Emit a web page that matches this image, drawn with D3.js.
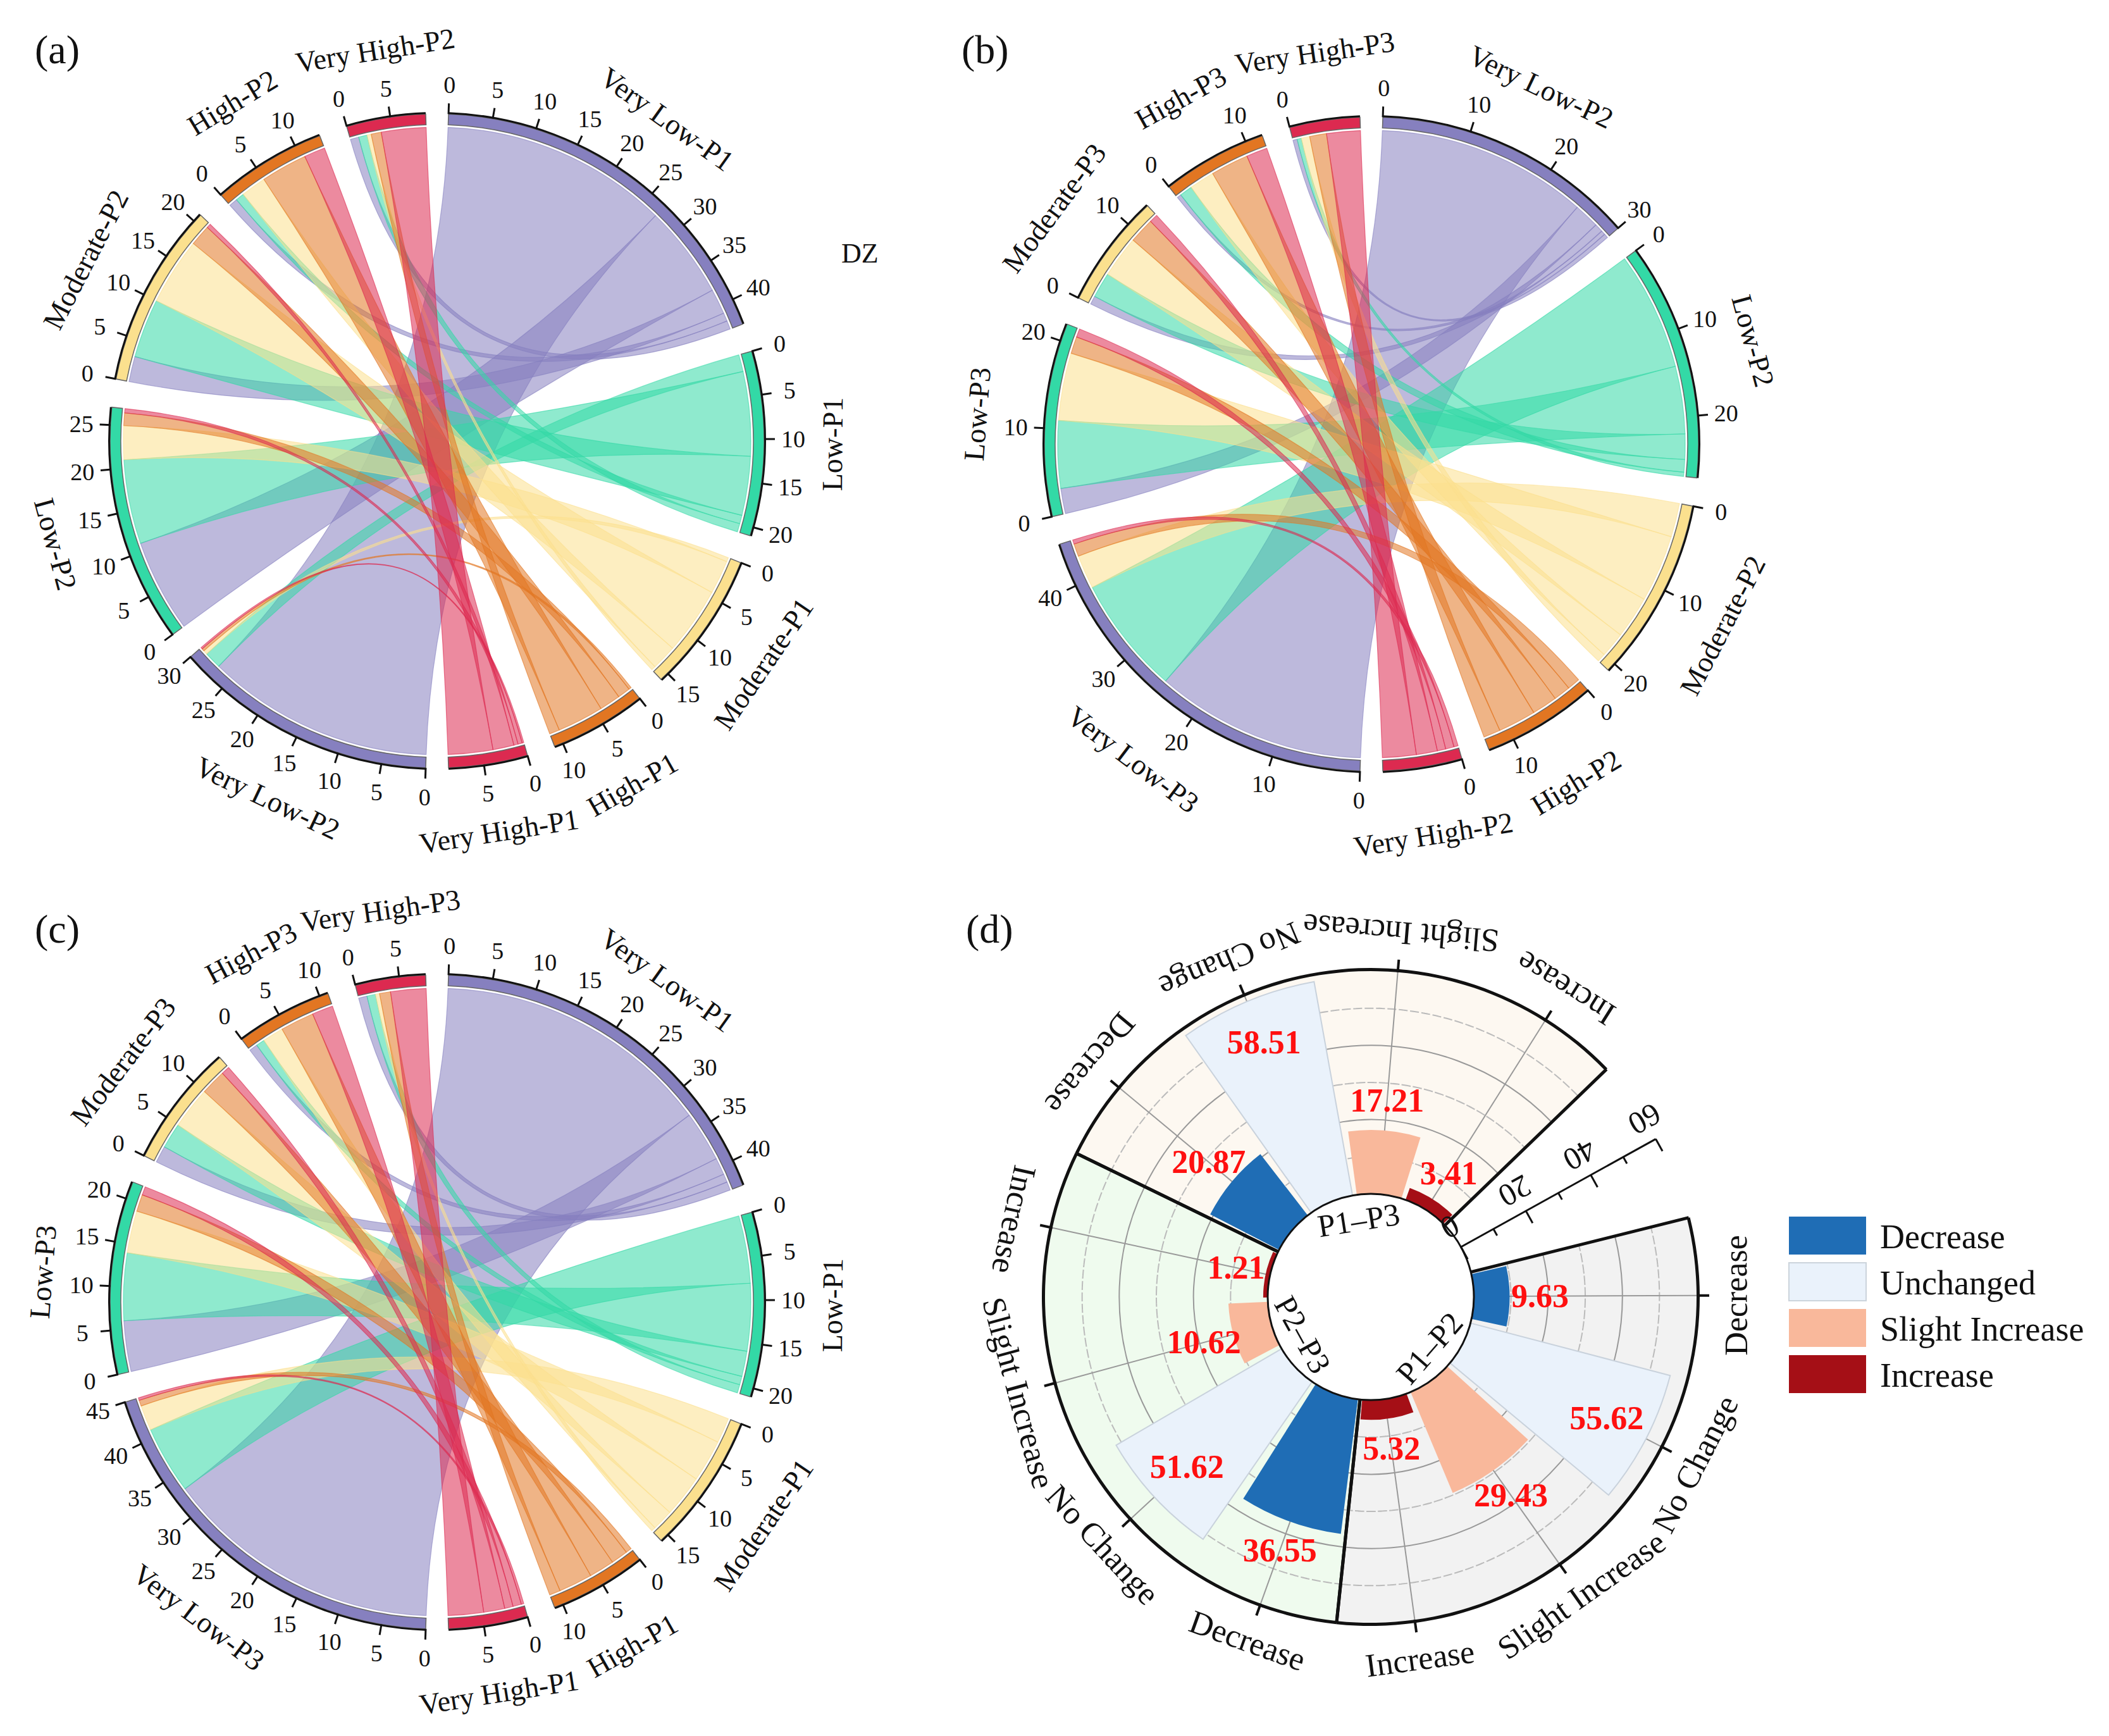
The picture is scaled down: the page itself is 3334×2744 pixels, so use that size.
<!DOCTYPE html>
<html>
<head>
<meta charset="utf-8">
<script src="https://cdn.jsdelivr.net/npm/d3@7"></script>
<style>
  body { margin: 0; background: #fff; }
  text { font-family: "Liberation Serif", "DejaVu Serif", serif; fill: #111; }
</style>
</head>
<body>
<script>
// ---- data ----
var levels = ["Very Low", "Low", "Moderate", "High", "Very High"];
var levelColors = ["#8680bf", "#33d9a6", "#fbe08e", "#e27622", "#dc2a50"];

// rows = right-hand period, cols = left-hand period
var flowsA = [ // P1 -> P2
  [27, 11, 3, 1, 1],
  [2, 10, 7, 1, 1],
  [0.5, 4, 8, 3, 0.5],
  [0.3, 1.5, 2.5, 5.5, 1.2],
  [0.2, 0.5, 0.5, 2.5, 5.3]
];
var flowsB = [ // P2 -> P3
  [25, 3, 1, 0.5, 0.5],
  [14, 8, 3, 1.5, 0.5],
  [4, 8, 5, 3, 1],
  [1.5, 2, 3, 4.5, 2],
  [0.5, 1, 1, 2.5, 4]
];
var flowsC = [ // P1 -> P3
  [33, 6, 2, 1, 1],
  [8, 8, 3, 1, 1],
  [3, 5, 5, 2.5, 0.5],
  [0.7, 2, 3, 4, 1.3],
  [0.3, 1, 1, 2.5, 4.2]
];

var pairNames = ["P1–P2", "P2–P3", "P1–P3"];
var catNames = ["Decrease", "No Change", "Slight Increase", "Increase"];
var decreaseVals = [9.63, 36.55, 20.87];
var unchangedVals = [55.62, 51.62, 58.51];
var slightVals = [29.43, 10.62, 17.21];
var increaseVals = [5.32, 1.21, 3.41];
var legendNames = ["Decrease", "Unchanged", "Slight Increase", "Increase"];
var barColors = ["#1f6db5", "#eaf2fb", "#f9b89b", "#a50f16"];
var radialTicks = [0, 20, 40, 60];

var W = 3334, H = 2744;
var svg = d3.select("body").append("svg").attr("width", W).attr("height", H);
svg.append("rect").attr("width", W).attr("height", H).attr("fill", "#fff");

var deg = Math.PI / 180;
function px(r, a) { return r * Math.sin(a); }
function py(r, a) { return -r * Math.cos(a); }
// text rotation so labels stay readable
function rot(a) {
  var d = a / deg;
  d = ((d % 360) + 360) % 360;
  return (d >= 90 && d < 270) ? d - 180 : d;
}

function drawChord(cx, cy, flows, rightP, leftP, step) {
  var g = svg.append("g").attr("transform", "translate(" + cx + "," + cy + ")");
  var R = 517, band = 17, ribR = R - band - 4;
  var halfGap = 2 * deg, pad = 5 * deg;

  var rightSizes = flows.map(function(r) { return d3.sum(r); });
  var leftSizes = levels.map(function(l, j) { return d3.sum(flows, function(r) { return r[j]; }); });

  function makeScales(sizes, base) {
    var k = (Math.PI - 2 * halfGap - 4 * pad) / d3.sum(sizes);
    var pos = base + halfGap;
    return sizes.map(function(s) {
      var sc = d3.scaleLinear().domain([0, s]).range([pos, pos + s * k]);
      pos += s * k + pad;
      return sc;
    });
  }
  var rs = makeScales(rightSizes, 0);
  var ls = makeScales(leftSizes, Math.PI);

  var ribbon = d3.ribbon().radius(ribR);
  var offR = [0, 0, 0, 0, 0], offL = [0, 0, 0, 0, 0];
  var chords = [];
  flows.forEach(function(row, i) {
    row.forEach(function(f, j) {
      chords.push({
        color: levelColors[i],
        source: { startAngle: rs[i](offR[i]), endAngle: rs[i](offR[i] + f) },
        target: { startAngle: ls[j](leftSizes[j] - offL[j] - f), endAngle: ls[j](leftSizes[j] - offL[j]) }
      });
      offR[i] += f;
      offL[j] += 0; // placeholder
    });
  });
  // left-side ordering: ascending source index clockwise
  offL = [0, 0, 0, 0, 0];
  var k = 0;
  flows.forEach(function(row, i) {
    row.forEach(function(f, j) {
      chords[k].target = { startAngle: ls[j](offL[j]), endAngle: ls[j](offL[j] + f) };
      offL[j] += f;
      k++;
    });
  });

  g.selectAll("path.ribbon").data(chords).enter().append("path")
    .attr("class", "ribbon")
    .attr("d", ribbon)
    .attr("fill", function(d) { return d.color; })
    .attr("fill-opacity", 0.55)
    .attr("stroke", function(d) { return d.color; })
    .attr("stroke-opacity", 0.6)
    .attr("stroke-width", 1.2);

  var groups = [];
  levels.forEach(function(l, i) { groups.push({ name: l + "-" + rightP, sc: rs[i], size: rightSizes[i], color: levelColors[i] }); });
  levels.forEach(function(l, j) { groups.push({ name: l + "-" + leftP, sc: ls[j], size: leftSizes[j], color: levelColors[j] }); });

  var bandArc = d3.arc().innerRadius(R - band).outerRadius(R);
  var lineArc = d3.arc().innerRadius(R).outerRadius(R + 3);
  groups.forEach(function(gr) {
    var a0 = gr.sc(0), a1 = gr.sc(gr.size);
    g.append("path").attr("d", bandArc({ startAngle: a0, endAngle: a1 }))
      .attr("fill", gr.color).attr("stroke", "#666").attr("stroke-width", 1.5);
    g.append("path").attr("d", lineArc({ startAngle: a0, endAngle: a1 })).attr("fill", "#111");

    d3.range(0, gr.size + 0.001, step).forEach(function(v) {
      var a = gr.sc(v);
      g.append("line")
        .attr("x1", px(R, a)).attr("y1", py(R, a))
        .attr("x2", px(R + 17, a)).attr("y2", py(R + 17, a))
        .attr("stroke", "#111").attr("stroke-width", 3);
      g.append("text")
        .attr("x", px(R + 46, a)).attr("y", py(R + 46, a))
        .attr("text-anchor", "middle").attr("dominant-baseline", "central")
        .attr("font-size", 38).text(v);
    });

    var am = (a0 + a1) / 2, lr = R + 108;
    g.append("text")
      .attr("transform", "translate(" + px(lr, am) + "," + py(lr, am) + ") rotate(" + rot(am) + ")")
      .attr("text-anchor", "middle").attr("dominant-baseline", "central")
      .attr("font-size", 46).text(gr.name);
  });
}

drawChord(691, 697, flowsA, "P1", "P2", 5);
drawChord(2168, 702, flowsB, "P2", "P3", 10);
drawChord(691, 2058, flowsC, "P1", "P3", 5);

// panel letters
[["(a)", 55, 100], ["(b)", 1520, 100], ["(c)", 55, 1490], ["(d)", 1527, 1490]].forEach(function(p) {
  svg.append("text").attr("x", p[1]).attr("y", p[2]).attr("font-size", 64).text(p[0]);
});
svg.append("text").attr("x", 1330).attr("y", 415).attr("font-size", 44).text("DZ");

// ---- polar bar chart (d) ----
(function() {
  var cx = 2167, cy = 2050, r0 = 163, R = 515;
  var g = svg.append("g").attr("transform", "translate(" + cx + "," + cy + ")");
  var r = d3.scaleLinear().domain([0, 60]).range([r0, R]);
  var sectorSpan = 110, sectorStart = 76, catSpan = sectorSpan / 4;
  var bgColors = ["#f2f2f2", "#effbee", "#fdf8f1"];
  var series = [decreaseVals, unchangedVals, slightVals, increaseVals];
  var arc = d3.arc();

  pairNames.forEach(function(p, s) {
    var a0 = (sectorStart + s * sectorSpan) * deg, a1 = a0 + sectorSpan * deg;
    g.append("path").attr("d", arc({ innerRadius: r0, outerRadius: R, startAngle: a0, endAngle: a1 }))
      .attr("fill", bgColors[s]);
    // grid circles
    [10, 20, 30, 40, 50].forEach(function(v) {
      g.append("path").attr("d", arc({ innerRadius: r(v), outerRadius: r(v), startAngle: a0, endAngle: a1 }))
        .attr("fill", "none").attr("stroke", v % 20 === 0 ? "#999" : "#bbb")
        .attr("stroke-width", 2).attr("stroke-dasharray", v % 20 === 0 ? null : "10,8");
    });
    catNames.forEach(function(c, ci) {
      var am = a0 + (ci + 0.5) * catSpan * deg;
      g.append("line").attr("x1", px(r0, am)).attr("y1", py(r0, am))
        .attr("x2", px(R, am)).attr("y2", py(R, am)).attr("stroke", "#999").attr("stroke-width", 2);
      g.append("line").attr("x1", px(R, am)).attr("y1", py(R, am))
        .attr("x2", px(R + 20, am)).attr("y2", py(R + 20, am)).attr("stroke", "#111").attr("stroke-width", 4);
      var lr = R + 62;
      g.append("text")
        .attr("transform", "translate(" + px(lr, am) + "," + py(lr, am) + ") rotate(" + (am / deg + 180) + ")")
        .attr("text-anchor", "middle").attr("dominant-baseline", "central")
        .attr("font-size", 52).text(c);
    });
  });

  // bars
  pairNames.forEach(function(p, s) {
    var a0 = (sectorStart + s * sectorSpan) * deg;
    series.forEach(function(vals, ci) {
      var b0 = a0 + (ci * catSpan + 1.2) * deg, b1 = a0 + ((ci + 1) * catSpan - 1.2) * deg;
      g.append("path").attr("d", arc({ innerRadius: r0, outerRadius: r(vals[s]), startAngle: b0, endAngle: b1 }))
        .attr("fill", barColors[ci])
        .attr("stroke", ci === 1 ? "#c9d2dc" : "none").attr("stroke-width", 2);
    });
  });

  // sector outlines
  pairNames.forEach(function(p, s) {
    var a0 = (sectorStart + s * sectorSpan) * deg, a1 = a0 + sectorSpan * deg;
    g.append("path").attr("d", arc({ innerRadius: R, outerRadius: R + 5, startAngle: a0, endAngle: a1 }))
      .attr("fill", "#111");
    [a0, a1].forEach(function(a) {
      g.append("line").attr("x1", px(r0, a)).attr("y1", py(r0, a))
        .attr("x2", px(R + 3, a)).attr("y2", py(R + 3, a)).attr("stroke", "#111").attr("stroke-width", 5);
    });
  });

  g.append("circle").attr("r", r0).attr("fill", "#fff").attr("stroke", "#111").attr("stroke-width", 3);

  // value labels
  pairNames.forEach(function(p, s) {
    var a0 = (sectorStart + s * sectorSpan) * deg;
    series.forEach(function(vals, ci) {
      var v = vals[s], am = a0 + (ci + 0.5) * catSpan * deg;
      var lr = v > 45 ? r(v) - 70 : r(v) + 48;
      g.append("text").attr("x", px(lr, am)).attr("y", py(lr, am))
        .attr("text-anchor", "middle").attr("dominant-baseline", "central")
        .attr("font-size", 52).attr("font-weight", "bold").style("fill", "#ff1010")
        .text(v.toFixed(2));
    });
    var amid = a0 + sectorSpan / 2 * deg, pr = r0 - 40;
    g.append("text")
      .attr("transform", "translate(" + px(pr, amid) + "," + py(pr, amid) + ") rotate(" + rot(amid) + ")")
      .attr("text-anchor", "middle").attr("dominant-baseline", "central")
      .attr("font-size", 50).text(p);
  });

  // radial axis in the gap
  var ax = (sectorStart + 3 * sectorSpan + 15) * deg;
  g.append("line").attr("x1", px(r0, ax)).attr("y1", py(r0, ax))
    .attr("x2", px(R, ax)).attr("y2", py(R, ax)).attr("stroke", "#111").attr("stroke-width", 3);
  var tx = Math.cos(ax), ty = Math.sin(ax);
  d3.range(0, 61, 10).forEach(function(v) {
    var x = px(r(v), ax), y = py(r(v), ax), len = v % 20 === 0 ? 22 : 12;
    g.append("line").attr("x1", x).attr("y1", y).attr("x2", x + tx * len).attr("y2", y + ty * len)
      .attr("stroke", "#111").attr("stroke-width", 3);
  });
  radialTicks.forEach(function(v) {
    var x = px(r(v), ax) - tx * 36, y = py(r(v), ax) - ty * 36;
    g.append("text").attr("transform", "translate(" + x + "," + y + ") rotate(" + (ax / deg + 90) + ")")
      .attr("text-anchor", "middle").attr("dominant-baseline", "central")
      .attr("font-size", 50).text(v);
  });

  // legend
  var lg = svg.append("g").attr("transform", "translate(2828,1923)");
  legendNames.forEach(function(n, i) {
    lg.append("rect").attr("x", 0).attr("y", i * 73).attr("width", 122).attr("height", 60)
      .attr("fill", barColors[i]).attr("stroke", i === 1 ? "#ccd4dc" : "none").attr("stroke-width", 2);
    lg.append("text").attr("x", 144).attr("y", i * 73 + 32).attr("dominant-baseline", "central")
      .attr("font-size", 54).text(n);
  });
})();
</script>
</body>
</html>
